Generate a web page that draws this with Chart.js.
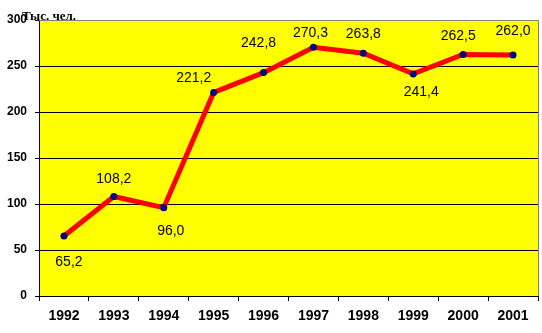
<!DOCTYPE html>
<html><head><meta charset="utf-8">
<script src="https://cdn.jsdelivr.net/npm/chart.js@4/dist/chart.umd.min.js"></script>
<style>html,body{margin:0;padding:0;background:#fff}#wrap{width:542px;height:333px;position:relative}</style>
</head><body><div id="wrap"><canvas id="c" width="542" height="333"></canvas></div>
<script>
const years = ['1992','1993','1994','1995','1996','1997','1998','1999','2000','2001'];
const values = [65.2, 108.2, 96.0, 221.2, 242.8, 270.3, 263.8, 241.4, 262.5, 262.0];
const yTicks = [0, 50, 100, 150, 200, 250, 300];
const unitLabel = 'Тыс. чел.';

// label offsets (pixels) relative to each point
const labelOffsets = [[5,26],[0,-17],[7,23],[-20,-14],[-5,-29],[-3,-14],[0,-19],[8,18],[-5,-18],[0,-24]];

const decorPlugin = {
  id: 'decor',
  beforeDraw(chart) {
    const {ctx, chartArea: a} = chart;
    ctx.save();
    ctx.fillStyle = '#FFFF00';
    ctx.fillRect(a.left, a.top, a.right - a.left, a.bottom - a.top);
    ctx.restore();
  },
  afterDatasetsDraw(chart) {
    const {ctx, chartArea: a} = chart;
    ctx.save();
    ctx.strokeStyle = '#808080';
    ctx.lineWidth = 1;
    ctx.beginPath();
    ctx.moveTo(a.left, a.top + 0.5);
    ctx.lineTo(a.right + 0.5, a.top + 0.5);
    ctx.lineTo(a.right + 0.5, a.bottom);
    ctx.stroke();
    const meta = chart.getDatasetMeta(0);
    ctx.fillStyle = '#000';
    ctx.font = '14px "Liberation Sans", Arial, sans-serif';
    ctx.textAlign = 'center';
    ctx.textBaseline = 'middle';
    meta.data.forEach((pt, i) => {
      const o = labelOffsets[i];
      ctx.fillText(values[i].toFixed(1).replace('.', ','), pt.x + o[0], pt.y + o[1]);
    });
    ctx.font = 'bold 13px "Liberation Serif", "Times New Roman", serif';
    ctx.textAlign = 'left';
    ctx.textBaseline = 'alphabetic';
    ctx.fillText(unitLabel, 22, 20);
    ctx.restore();
  }
};

new Chart(document.getElementById('c'), {
  type: 'line',
  data: {
    labels: years,
    datasets: [{
      data: values,
      borderColor: '#FF0000',
      borderWidth: 5,
      pointBackgroundColor: '#000080',
      pointBorderColor: '#000080',
      pointRadius: 3.5,
      pointBorderWidth: 0,
      tension: 0
    }]
  },
  options: {
    responsive: false,
    animation: false,
    events: [],
    layout: {padding: {left: 0, right: 4, top: 20, bottom: 0}},
    plugins: {legend: {display: false}, tooltip: {enabled: false}},
    scales: {
      x: {
        offset: true,
        grid: {offset: true, drawOnChartArea: false, color: '#000', tickLength: 5, tickColor: '#000'},
        border: {color: '#000', width: 1},
        ticks: {color: '#000', font: {family: '"Liberation Sans Narrow", "Arial Narrow", "Liberation Sans", Arial', size: 14, weight: 'bold'}, padding: 7, maxRotation: 0, autoSkip: false},
        afterFit(s) { s.height = 37; }
      },
      y: {
        min: 0, max: 300,
        afterBuildTicks(s) { s.ticks = yTicks.map(v => ({value: v})); },
        grid: {color: (c) => c.tick && c.tick.value === 300 ? 'rgba(0,0,0,0)' : '#000', tickLength: 4, tickColor: '#000'},
        border: {color: '#000', width: 1},
        ticks: {color: '#000', font: {family: '"Liberation Sans", Arial', size: 12, weight: 'bold'}, padding: 8},
        afterFit(s) { s.width = 39; }
      }
    }
  },
  plugins: [decorPlugin]
});
</script></body></html>
